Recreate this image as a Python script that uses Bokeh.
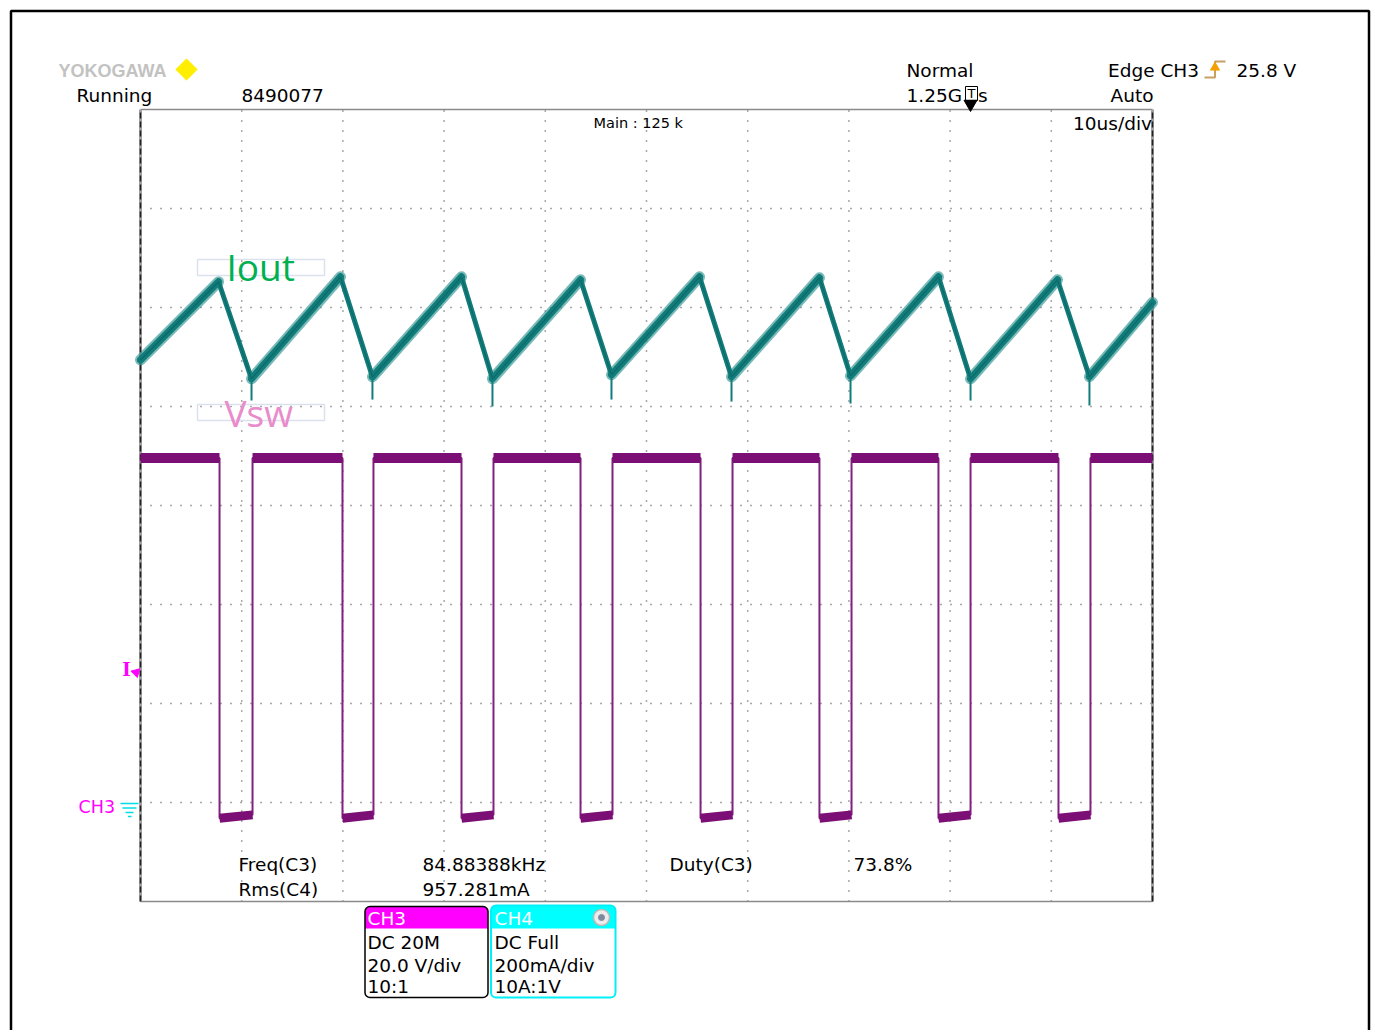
import numpy as np
from bokeh.plotting import figure
from bokeh.models import Range1d, Label, BoxAnnotation
from bokeh.embed import file_html
from bokeh.resources import INLINE

# ---------------- data read from the screen ----------------
# screen grid: 10 us/div horizontally (10 div), 8 vertical divisions
time_grid_us = [0, 10, 20, 30, 40, 50, 60, 70, 80, 90, 100]
div_grid = [-4, -3, -2, -1, 0, 1, 2, 3, 4]

# CH4 : Iout (200 mA/div), inductor current ramp: start, peak, valley, peak, ...
iout_t_us = [0.0, 7.71, 10.97, 19.76, 22.92, 31.72, 34.78, 43.48, 46.54,
             55.24, 58.40, 67.09, 70.16, 78.85, 82.02, 90.61, 93.77, 100.0]
iout_ma = [902, 1060, 864, 1070, 868, 1070, 864, 1064, 872,
           1070, 868, 1068, 870, 1070, 864, 1064, 868, 1018]
# short negative spikes at each valley (switch turn-on)
iout_spike_ma = [820, 822, 808, 822, 818, 814, 820, 810]

# CH3 : Vsw (20 V/div), switching node
vsw_fall_t_us = [7.81, 19.96, 31.72, 43.48, 55.34, 67.09, 78.85, 90.71]
vsw_rise_t_us = [11.07, 23.02, 34.88, 46.64, 58.50, 70.26, 82.02, 93.87]
vsw_high_v = 70.4
vsw_low_start_v = -2.4
vsw_low_end_v = -1.7

# ---------------- screen layout (page pixels) ----------------
GX0, GX1 = 140.0, 1152.0          # graticule left/right
GY_TOP, GY_BOT = 109.0, 901.0     # graticule top/bottom
PX_PER_US = (GX1 - GX0) / (time_grid_us[-1] - time_grid_us[0])
PX_PER_DIV = (GY_BOT - GY_TOP) / (div_grid[-1] - div_grid[0])
GYC = (GY_TOP + GY_BOT) / 2
ZERO_DIV = -3.04                  # ground marker of CH3 / CH4
CH3_V_PER_DIV = 20.0
CH4_MA_PER_DIV = 200.0

PAGE_L, PAGE_T = 0, 0
W, H = 1372, 1030


def X(px):
    return (px - GX0) / PX_PER_US


def Y(py):
    return (GYC - py) / PX_PER_DIV


p = figure(width=W, height=H,
           x_range=Range1d(X(PAGE_L), X(PAGE_L + W)),
           y_range=Range1d(Y(PAGE_T + H), Y(PAGE_T)),
           output_backend="svg", toolbar_location=None,
           x_axis_type=None, y_axis_type=None, min_border=0)
p.outline_line_color = None
p.background_fill_color = "white"
p.border_fill_color = "white"
y0, y1 = p.y_range.start, p.y_range.end
p.extra_y_ranges = {
    "ch3": Range1d((y0 - ZERO_DIV) * CH3_V_PER_DIV, (y1 - ZERO_DIV) * CH3_V_PER_DIV),
    "ch4": Range1d((y0 - ZERO_DIV) * CH4_MA_PER_DIV, (y1 - ZERO_DIV) * CH4_MA_PER_DIV),
}

# ---------------- outer black frame ----------------
p.line([X(10.5), X(10.5), X(1368.5), X(1368.5)],
       [Y(1040), Y(10.5), Y(10.5), Y(1040)], line_color="black", line_width=2.5)

# ---------------- graticule ----------------
tmin, tmax = time_grid_us[0], time_grid_us[-1]
dmin, dmax = div_grid[0], div_grid[-1]
inner_t = time_grid_us[1:-1]
inner_d = div_grid[1:-1]
p.segment(x0=inner_t, y0=[dmin] * len(inner_t), x1=inner_t, y1=[dmax] * len(inner_t),
          line_color="#505050", line_width=1.5, line_dash="1 9")
p.segment(x0=[tmin] * len(inner_d), y0=inner_d, x1=[tmax] * len(inner_d), y1=inner_d,
          line_color="#505050", line_width=1.5, line_dash="1 9")
p.segment(x0=[tmin, tmin], y0=[dmin, dmax], x1=[tmax, tmax], y1=[dmin, dmax],
          line_color="#8a8a8a", line_width=1.5)
p.segment(x0=[tmin, tmax], y0=[dmin, dmin], x1=[tmin, tmax], y1=[dmax, dmax],
          line_color="#a0a0a0", line_width=3)
p.segment(x0=[tmin, tmax], y0=[dmin, dmin], x1=[tmin, tmax], y1=[dmax, dmax],
          line_color="#222222", line_width=1.5, line_dash="6 3")

# ---------------- Vsw trace (CH3) ----------------
VSW_COLOR = "#7c0f76"
xs, ys = [tmin], [vsw_high_v]
for f, r in zip(vsw_fall_t_us, vsw_rise_t_us):
    xs += [f, f, r, r]
    ys += [vsw_high_v, vsw_low_start_v, vsw_low_end_v, vsw_high_v]
xs.append(tmax)
ys.append(vsw_high_v)
p.line(xs, ys, y_range_name="ch3", line_color="#82207e", line_width=2)
high_start = [tmin] + vsw_rise_t_us
high_end = vsw_fall_t_us + [tmax]
p.segment(x0=high_start, y0=[vsw_high_v] * len(high_start),
          x1=high_end, y1=[vsw_high_v] * len(high_end),
          y_range_name="ch3", line_color=VSW_COLOR, line_width=10)
p.segment(x0=vsw_fall_t_us, y0=[vsw_low_start_v] * len(vsw_fall_t_us),
          x1=vsw_rise_t_us, y1=[vsw_low_end_v] * len(vsw_rise_t_us),
          y_range_name="ch3", line_color=VSW_COLOR, line_width=9)

# ---------------- Iout trace (CH4) ----------------
IOUT_COLOR = "#117c7a"
n = len(iout_t_us)
rise_i = list(range(0, n - 1, 2))
fall_i = list(range(1, n - 1, 2))
rx0 = [iout_t_us[i] for i in rise_i]
ry0 = [iout_ma[i] for i in rise_i]
rx1 = [iout_t_us[i + 1] for i in rise_i]
ry1 = [iout_ma[i + 1] for i in rise_i]
p.segment(x0=rx0, y0=ry0, x1=rx1, y1=ry1, y_range_name="ch4",
          line_color="#1f8a87", line_alpha=0.6, line_width=11, line_cap="round")
p.segment(x0=rx0, y0=ry0, x1=rx1, y1=ry1, y_range_name="ch4",
          line_color=IOUT_COLOR, line_width=7, line_cap="round")
p.segment(x0=[iout_t_us[i] for i in fall_i], y0=[iout_ma[i] for i in fall_i],
          x1=[iout_t_us[i + 1] for i in fall_i], y1=[iout_ma[i + 1] for i in fall_i],
          y_range_name="ch4", line_color=IOUT_COLOR, line_width=5, line_cap="round")
valley_t = iout_t_us[2:-1:2]
valley_ma = iout_ma[2:-1:2]
p.segment(x0=valley_t, y0=valley_ma, x1=valley_t, y1=iout_spike_ma,
          y_range_name="ch4", line_color=IOUT_COLOR, line_width=2)
p.line(iout_t_us, iout_ma, y_range_name="ch4", line_color="#0a5f5d",
       line_width=1.2, line_alpha=0.6)

# ---------------- texts ----------------
FONT = "DejaVu Sans"


def txt(s, px, py, size="18.5px", color="black", font=FONT, style="normal", align="left"):
    # py = vertical centre of the text (page pixels)
    p.add_layout(Label(x=X(px), y=Y(py), text=s, text_font=font, text_font_size=size,
                       text_color=color, text_font_style=style, text_align=align,
                       text_baseline="middle"))


# header
txt("YOKOGAWA", 58, 70, size="18px", color="#c2c2c2", font="Liberation Sans", style="bold")
p.scatter([X(186)], [Y(69)], marker="square", size=15, angle=np.pi / 4,
          fill_color="#ffee00", line_color="#ffee00")
txt("Running", 76, 94.5)
txt("8490077", 241, 94.5)
txt("Normal", 906, 70)
txt("1.25G", 906, 94.5)
p.add_layout(BoxAnnotation(left=X(965), right=X(977), top=Y(86), bottom=Y(100),
                           fill_alpha=0, line_color="black", line_alpha=1, line_width=1))
txt("T", 971, 93, size="13px", align="center")
txt("s", 977.5, 94.5)
p.scatter([X(970)], [Y(103.5)], marker="inverted_triangle", size=13,
          fill_color="black", line_color="black")
txt("Edge CH3", 1107.5, 70)
p.line([X(1204), X(1214.5), X(1214.5), X(1225)], [Y(77), Y(77), Y(61), Y(61)],
       line_color="#c8a060", line_width=2)
p.scatter([X(1214.5)], [Y(67)], marker="triangle", size=9,
          fill_color="#f5a000", line_color="#f5a000")
txt("25.8", 1236, 70)
txt("V", 1283, 70)
txt("Auto", 1110, 94.5)
txt("Main : 125 k", 593, 122, size="14.5px")
txt("10us/div", 1072.5, 123)

# trace labels
p.add_layout(BoxAnnotation(left=X(197), right=X(324), top=Y(259), bottom=Y(275),
                           fill_alpha=0, line_color="#dbe2ee", line_alpha=1, line_width=1.5))
p.add_layout(BoxAnnotation(left=X(197), right=X(324), top=Y(404), bottom=Y(420),
                           fill_alpha=0, line_color="#dbe2ee", line_alpha=1, line_width=1.5))
txt("Iout", 226, 266, size="37px", color="#00b050", font="Open Sans")
txt("Vsw", 224, 412, size="37px", color="#e88ccb", font="Open Sans")

# left markers
txt("I", 126, 668, size="22px", color="#ff00ff", font="Liberation Serif", style="bold",
    align="center")
p.scatter([X(135.5)], [Y(672)], marker="triangle", size=9, angle=-np.pi / 4,
          fill_color="#ff00ff", line_color="#ff00ff")
txt("CH3", 78, 806, size="17.5px", color="#ff00ff")
p.segment(x0=[X(120), X(122), X(125), X(127.5)], y0=[Y(803), Y(807.5), Y(812), Y(816)],
          x1=[X(138), X(136), X(133), X(131)], y1=[Y(803), Y(807.5), Y(812), Y(816)],
          line_color="#00dde8", line_width=1.5)

# measurements
txt("Freq(C3)", 238, 864)
txt("84.88388kHz", 422, 864)
txt("Duty(C3)", 669, 864)
txt("73.8%", 853, 864)
txt("Rms(C4)", 238, 889)
txt("957.281mA", 422, 889)

# channel boxes
p.add_layout(BoxAnnotation(left=X(364.5), right=X(487.5), top=Y(906), bottom=Y(928),
                           fill_color="#ff00ff", fill_alpha=1, line_alpha=0,
                           border_radius=(5, 5, 0, 0)))
p.add_layout(BoxAnnotation(left=X(364.5), right=X(487.5), top=Y(906), bottom=Y(997),
                           fill_alpha=0, line_color="black", line_alpha=1, line_width=1.5,
                           border_radius=5))
p.add_layout(BoxAnnotation(left=X(490.5), right=X(615), top=Y(905), bottom=Y(928),
                           fill_color="#00ffff", fill_alpha=1, line_alpha=0,
                           border_radius=(5, 5, 0, 0)))
p.add_layout(BoxAnnotation(left=X(490.5), right=X(615), top=Y(905), bottom=Y(997),
                           fill_alpha=0, line_color="#00f0f8", line_alpha=1, line_width=2,
                           border_radius=5))
p.scatter([X(601)], [Y(917)], marker="circle", size=16, level="overlay",
          fill_color="#ececec", line_color="#b8b8b8", line_width=1.5)
p.scatter([X(601)], [Y(917)], marker="circle", size=6, level="overlay",
          fill_color="#7d8a9e", line_color="#7d8a9e")

txt("CH3", 367, 917.5, color="white")
txt("DC 20M", 367, 941.5)
txt("20.0 V/div", 367, 964.5)
txt("10:1", 367, 986)
txt("CH4", 494, 917.5, color="white")
txt("DC Full", 494, 941.5)
txt("200mA/div", 494, 964.5)
txt("10A:1V", 494, 986)

open("out.html", "w").write(file_html(p, INLINE))
